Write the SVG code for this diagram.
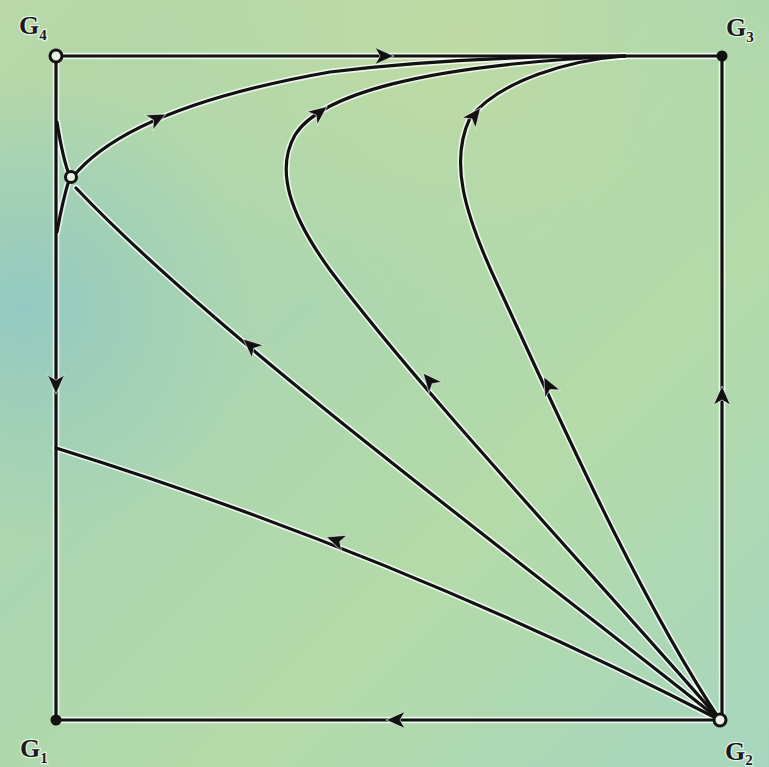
<svg xmlns="http://www.w3.org/2000/svg" width="769" height="767" viewBox="0 0 769 767">
<defs>
<linearGradient id="bg" x1="0" y1="0" x2="1" y2="1">
<stop offset="0" stop-color="#b8d8a6"/>
<stop offset="0.4" stop-color="#acd6b0"/>
<stop offset="0.65" stop-color="#b4daa8"/>
<stop offset="1" stop-color="#a6d6be"/>
</linearGradient>
<radialGradient id="teal" cx="0.03" cy="0.4" r="0.3">
<stop offset="0" stop-color="#8fc8c4" stop-opacity="0.9"/>
<stop offset="1" stop-color="#8fc8c4" stop-opacity="0"/>
</radialGradient>
<radialGradient id="yel" cx="0.6" cy="0.05" r="0.4">
<stop offset="0" stop-color="#c2dca0" stop-opacity="0.8"/>
<stop offset="1" stop-color="#c2dca0" stop-opacity="0"/>
</radialGradient>
<path id="ah" d="M9,0 L-10,-8.5 L-5,0 L-10,8.5 Z"/>
</defs>
<style>
.ln{fill:none;stroke:#111;stroke-width:3.2;stroke-linecap:round}
.halo{fill:none;stroke:#fff;stroke-width:6.5;stroke-opacity:0.75;stroke-linecap:round}
.arr{fill:#111;stroke:#fff;stroke-width:1;stroke-opacity:0.6}
.lab{font-family:"Liberation Serif",serif;font-weight:bold;fill:#1a1a1a;stroke:#fff;stroke-width:2.5;stroke-opacity:0.7;paint-order:stroke}
.big{font-size:26px}
.sub{font-size:15px}
.open{fill:#e8f0e0;stroke:#111;stroke-width:3}
.fill{fill:#111}
</style>
<rect width="769" height="767" fill="url(#bg)"/>
<rect width="769" height="767" fill="url(#teal)"/>
<rect width="769" height="767" fill="url(#yel)"/>

<g id="connectors">
<g class="halo">
<path d="M56,56 L722,56 L722,720 L56,720 Z"/>
<path d="M720,720 Q400,555 56,448"/>
<path d="M720,720 C520,560 220,340 76,188"/>
<path d="M720,720 C580,560 420,390 330,270 C290,215 275,170 295,135 C320,95 420,65 625,56"/>
<path d="M720,720 C640,600 560,420 500,290 C462,210 450,160 470,118 C500,80 570,60 625,56"/>
<path d="M72,178 C110,130 200,95 330,72 C430,60 540,56 625,56"/>
<path d="M57,122 Q63,160 70,177 Q63,198 57,232"/>
</g>
<g class="ln">
<path d="M56,56 L722,56 L722,720 L56,720 Z"/>
<path d="M720,720 Q400,555 56,448"/>
<path d="M720,720 C520,560 220,340 76,188"/>
<path d="M720,720 C580,560 420,390 330,270 C290,215 275,170 295,135 C320,95 420,65 625,56"/>
<path d="M720,720 C640,600 560,420 500,290 C462,210 450,160 470,118 C500,80 570,60 625,56"/>
<path d="M72,178 C110,130 200,95 330,72 C430,60 540,56 625,56"/>
<path d="M57,122 Q63,160 70,177 Q63,198 57,232"/>
</g>
<g class="arr">
<use href="#ah" transform="translate(385,56)"/>
<use href="#ah" transform="translate(56,385) rotate(90)"/>
<use href="#ah" transform="translate(722,395) rotate(-90)"/>
<use href="#ah" transform="translate(395,720) rotate(180)"/>
<use href="#ah" transform="translate(335,540) rotate(199)"/>
<use href="#ah" transform="translate(250,345) rotate(221)"/>
<use href="#ah" transform="translate(429,380) rotate(229.5)"/>
<use href="#ah" transform="translate(320,112) rotate(-38)"/>
<use href="#ah" transform="translate(548,385) rotate(243)"/>
<use href="#ah" transform="translate(475,115) rotate(-52)"/>
<use href="#ah" transform="translate(158,118) rotate(-27)"/>
</g>
</g>

<g id="G4"><circle class="open" cx="56" cy="56" r="6"/>
<text class="lab" x="19" y="34"><tspan class="big">G</tspan><tspan class="sub" dy="6">4</tspan></text></g>
<g id="G3"><circle class="fill" cx="722" cy="56" r="5.5"/>
<text class="lab" x="726" y="36"><tspan class="big">G</tspan><tspan class="sub" dy="6">3</tspan></text></g>
<g id="G1"><circle class="fill" cx="56" cy="720" r="5.5"/>
<text class="lab" x="20" y="757"><tspan class="big">G</tspan><tspan class="sub" dy="6">1</tspan></text></g>
<g id="G2"><circle class="open" cx="720" cy="720" r="6"/>
<text class="lab" x="725" y="760"><tspan class="big">G</tspan><tspan class="sub" dy="5">2</tspan></text></g>
<g id="S"><circle class="open" cx="71" cy="177" r="5.5"/></g>
</svg>
